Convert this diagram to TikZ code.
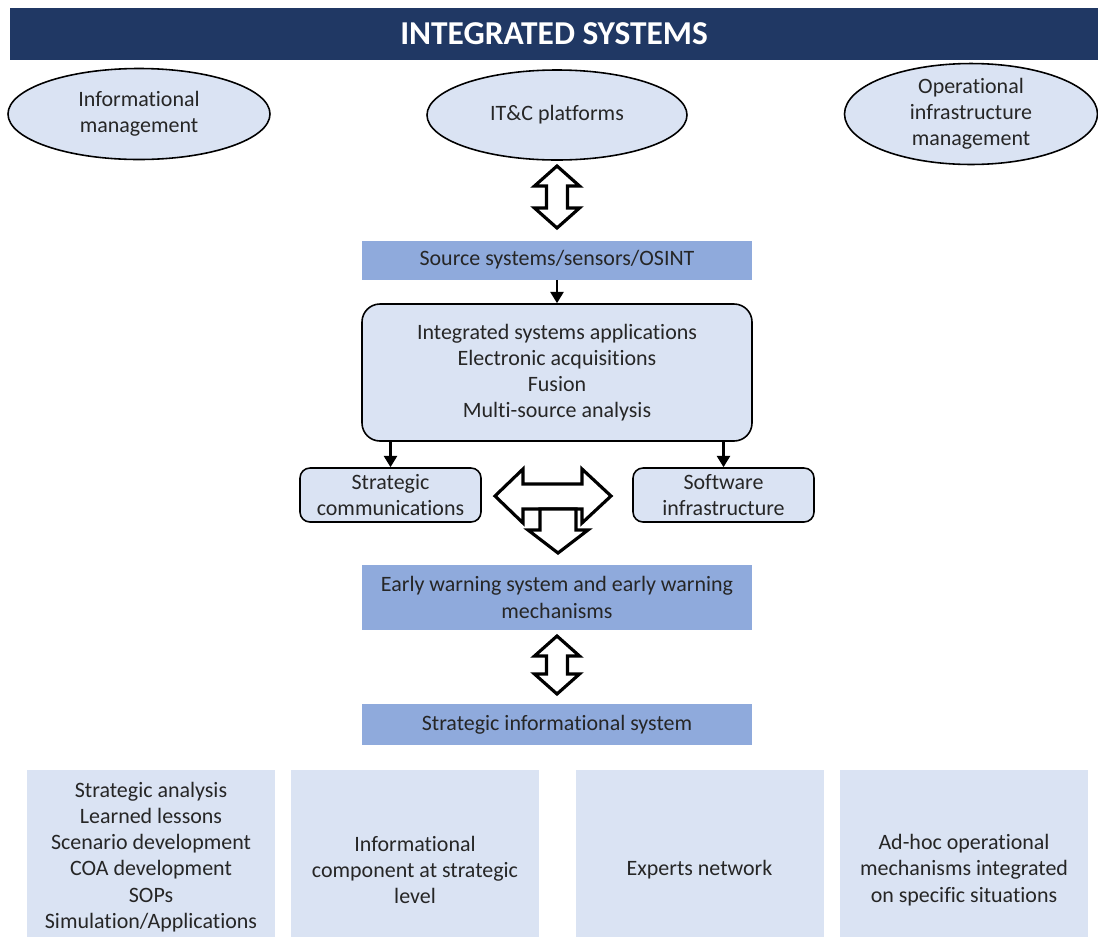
\documentclass[tikz,border=0pt]{standalone}
\usepackage{fontspec}
\setmainfont{Carlito}[Ligatures=NoCommon]
\usetikzlibrary{shapes.geometric,arrows.meta}
\definecolor{navy}{RGB}{32,56,100}
\definecolor{lightb}{RGB}{218,227,243}
\definecolor{midb}{RGB}{143,170,220}
\definecolor{txt}{RGB}{38,38,38}
\begin{document}
\begin{tikzpicture}[x=0.02cm,y=-0.02cm,
  every node/.style={font=\fontsize{12.5}{14.9}\selectfont, align=center, inner sep=0pt, text=txt},
  oval/.style={ellipse, draw=black, line width=0.9pt, fill=lightb},
  bar/.style={fill=midb, minimum width=390*0.02cm},
  rbox/.style={draw=black, line width=0.9pt, fill=lightb},
  bbox/.style={fill=lightb, minimum width=248*0.02cm, minimum height=167*0.02cm},
  hollow/.style={draw=black, line width=1.8pt, fill=white, line join=miter},
  arr/.style={-{Triangle[length=6.5pt,width=7.5pt]}, line width=1.3pt}
]
\useasboundingbox (0,0) rectangle (1098,937);
% title
\node[fill=navy, minimum width=1088*0.02cm, minimum height=52*0.02cm, text=white,
  font=\fontsize{19}{21}\selectfont\bfseries] (title) at (554,34) {INTEGRATED SYSTEMS};
% ellipses
\node[oval, minimum width=262*0.02cm, minimum height=91*0.02cm] (im) at (139,114) {Informational\\management};
\node[oval, minimum width=260*0.02cm, minimum height=90*0.02cm] (itc) at (557,115) {IT\&C platforms};
\node[oval, minimum width=253*0.02cm, minimum height=88*0.02cm] (oim) at (971,114) {Operational\\infrastructure\\management};
% central column
\node[bar, minimum height=39*0.02cm] (src) at (557,260) {Source systems/sensors/OSINT};
\node[rbox, rounded corners=0.36cm, minimum width=390*0.02cm, minimum height=137*0.02cm] (isa) at (557,372.5)
  {Integrated systems applications\\Electronic acquisitions\\Fusion\\Multi-source analysis};
\node[rbox, rounded corners=0.2cm, minimum width=181*0.02cm, minimum height=54*0.02cm] (sc) at (390.5,495) {Strategic\\communications};
\node[rbox, rounded corners=0.2cm, minimum width=181*0.02cm, minimum height=54*0.02cm] (si) at (723.5,495) {Software\\infrastructure};
\node[bar, minimum height=65*0.02cm] (ew) at (557,597.5) {Early warning system and early warning\\mechanisms};
\node[bar, minimum height=41*0.02cm] (sis) at (557,724.5) {Strategic informational system};
% bottom boxes (cut by the lower edge)
\node[bbox] (b1) at (151,853.5) {};
\node[bbox] (b2) at (415,853.5) {};
\node[bbox] (b3) at (699.5,853.5) {};
\node[bbox] (b4) at (964,853.5) {};
\node (t1) at (151,857) {Strategic analysis\\Learned lessons\\Scenario development\\COA development\\SOPs\\Simulation/Applications};
\node (t2) at (415,870) {Informational\\component at strategic\\level};
\node (t3) at (699.5,870) {Experts network};
\node (t4) at (964,870) {Ad-hoc operational\\mechanisms integrated\\on specific situations};
% small arrows
\draw[arr] (src.south) -- (isa.north);
\draw[arr] (isa.south -| sc.north) -- (sc.north);
\draw[arr] (isa.south -| si.north) -- (si.north);
% hollow arrows
\draw[hollow] (557,166) -- (579.5,186) -- (567.5,186) -- (567.5,208) -- (579.5,208) -- (557,228)
  -- (534.5,208) -- (546.5,208) -- (546.5,186) -- (534.5,186) -- cycle;
\draw[hollow] (557,636) -- (579.5,656) -- (567.5,656) -- (567.5,674) -- (579.5,674) -- (557,694)
  -- (534.5,674) -- (546.5,674) -- (546.5,656) -- (534.5,656) -- cycle;
\draw[hollow] (495,496) -- (523,469) -- (523,484) -- (582,484) -- (582,469) -- (611,496)
  -- (582,523) -- (582,509) -- (523,509) -- (523,523) -- cycle;
\draw[hollow] (540,509) -- (576,509) -- (576,530) -- (588,530) -- (558,553) -- (528,530) -- (540,530) -- cycle;
\end{tikzpicture}
\end{document}
